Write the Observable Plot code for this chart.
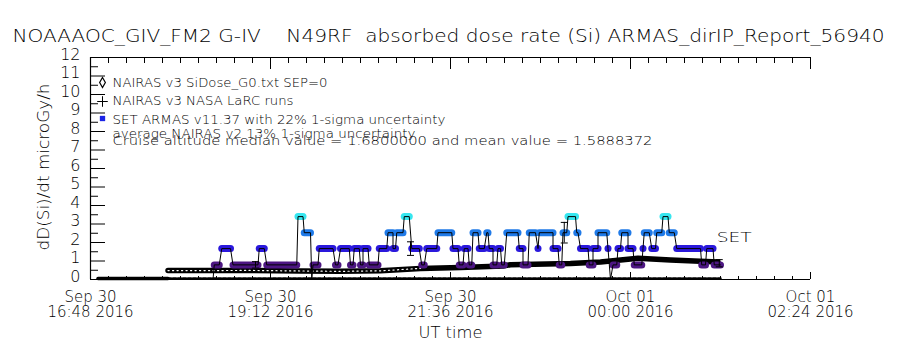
<!DOCTYPE html>
<html><head><meta charset="utf-8">
<script src="https://cdn.jsdelivr.net/npm/d3@7"></script>
<script src="https://cdn.jsdelivr.net/npm/@observablehq/plot@0.6"></script>
<style>body{margin:0;background:#fff} svg{display:block} svg text{white-space:pre}</style>
</head><body><div id="chart"></div>
<script>
// ---------- data (times = elapsed minutes after 2016-09-30 16:48 UT) ----------
const titleText = "NOAAAOC_GIV_FM2 G-IV    N49RF  absorbed dose rate (Si) ARMAS_dirIP_Report_56940";
const yTitle = "dD(Si)/dt microGy/h";
const xTitle = "UT time";
const yTickValues = [0,1,2,3,4,5,6,7,8,9,10,11,12];
const xTickTimes = ["2016-09-30T16:48Z","2016-09-30T19:12Z","2016-09-30T21:36Z","2016-10-01T00:00Z","2016-10-01T02:24Z"];
const xTickLabels = ["Sep 30\n16:48 2016","Sep 30\n19:12 2016","Sep 30\n21:36 2016","Oct 01\n00:00 2016","Oct 01\n02:24 2016"];
const legendLabels = ["NAIRAS v3 SiDose_G0.txt SEP=0","NAIRAS v3 NASA LaRC runs","SET ARMAS v11.37 with 22% 1-sigma uncertainty"];
const noteLines = ["average NAIRAS v2 13% 1-sigma uncertainty","Cruise altitude median value = 1.6800000 and mean value = 1.5888372"];
const seriesTag = "SET";

// NAIRAS v3 SiDose_G0 model
const nairasMin = [62, 88, 128, 168, 200, 232, 264, 296, 330, 336, 384, 408, 438, 464, 502];
const nairasDose = [0.48, 0.48, 0.49, 0.46, 0.44, 0.47, 0.60, 0.65, 0.73, 0.80, 0.86, 0.95, 1.15, 1.05, 0.95];

// NAIRAS v3 NASA LaRC runs (ground + flight, near zero)
const larcGroundMin = [6, 62];
const larcGroundDose = [0.06, 0.06];
const larcFlightMin = [62, 504];
const larcFlightDose = [0.05, 0.05];

// ARMAS v11.37 quantized dose-rate runs: start, end (minutes), dose
const armasStart = [98,99,105,114,135,141,166,171,177,178,183,196,200,208,211,216,218,223,231,238,242,245,251,257,265,269,278,290,295,299,303,306,311,317,319,322,326,329,333,343,346,351,358,359,370,375,378,382,389,392,399,402,406,414,416,418,422,425,430,435,442,443,449,453,458,463,469,489,493,499];
const armasEnd   = [98,103,112,134,139,165,170,176,177,182,194,198,207,210,215,218,222,230,237,242,244,250,255,263,267,277,289,294,298,302,305,310,315,318,322,325,328,331,342,346,350,356,358,370,374,377,381,388,390,398,402,406,413,414,416,421,424,430,434,441,442,447,452,457,462,467,488,492,498,504];
const armasDose  = [0,0.79,1.67,0.79,1.67,0.79,3.40,2.53,0,0.79,1.67,0.79,1.67,0.79,1.67,0.79,1.67,0.79,1.67,2.53,1.67,2.53,3.40,1.67,0.79,1.67,2.53,1.67,0.79,1.67,0.79,2.53,1.67,2.53,1.67,0.79,1.67,0.79,2.53,1.67,0.79,2.53,1.67,2.53,1.67,0.79,2.53,3.40,2.53,1.67,0.79,1.67,2.53,1.67,0,0.79,1.67,2.53,1.67,0.79,1.67,2.53,1.67,2.53,3.40,2.53,1.67,0.79,1.67,0.79];

// ARMAS 22% 1-sigma error bars
const errMin = [132, 256, 379, 503];
const errDose = [0.79, 1.67, 2.53, 0.88];
const errFrac = 0.22;

const levelValues = [0.79, 1.67, 2.53, 3.40];
const levelColors = ["#4c1682", "#2a18dc", "#1f7ae8", "#36e6ef"];

// ---------- build ----------
const t0 = Date.UTC(2016, 8, 30, 16, 48);
const D = m => new Date(t0 + m * 60000);
const xDomain = [new Date(xTickTimes[0]), new Date(xTickTimes[4])];

const nairas = nairasMin.map((m, i) => ({t: D(m), v: nairasDose[i], m}));
const nairasEarly = nairas.filter(d => d.m <= 264);
const larcG = larcGroundMin.map((m, i) => ({t: D(m), v: larcGroundDose[i]}));
const larcF = larcFlightMin.map((m, i) => ({t: D(m), v: larcFlightDose[i]}));
const runs = armasStart.map((s, i) => ({t1: D(s), t2: D(armasEnd[i]), v: armasDose[i]}));
const armasPts = runs.flatMap(r => [{t: r.t1, v: r.v}, {t: r.t2, v: r.v}]);
const coloredRuns = runs.filter(r => r.v > 0);
const errs = errMin.map((m, i) => ({t: D(m), lo: errDose[i] * (1 - errFrac), hi: errDose[i] * (1 + errFrac)}));
const colorOf = v => levelColors[levelValues.indexOf(v)];

// axis tick positions (10 minor intervals per labelled interval)
const span = xDomain[1] - xDomain[0];
const xMinor = d3.range(0, 41).map(i => new Date(+xDomain[0] + span * i / 40));
const xMajor = xTickTimes.map(s => new Date(s));
const yMinor = d3.range(0, 12.01, 0.5);
const msPerPx = span / 720;
const pxUnit = 12 / 222;
const capL = d => new Date(+d.t - 3.5 * msPerPx);
const capR = d => new Date(+d.t + 3.5 * msPerPx);

const FONT = "DejaVu Sans";
const txt = {fontFamily: FONT, fontWeight: 200, fill: "black", stroke: "none"};
const TL = (s, dx, dy, size) => Plot.text([s], {frameAnchor: "top-left", dx, dy, textAnchor: "start", lineAnchor: "middle", fontSize: size, ...txt});

const chart = Plot.plot({
  width: 900, height: 350,
  marginLeft: 90, marginRight: 90, marginTop: 57, marginBottom: 71,
  x: {type: "utc", domain: xDomain, axis: null},
  y: {domain: [0, 12], axis: null},
  style: {fontFamily: FONT, background: "white"},
  marks: [
    // frame
    Plot.ruleX([xDomain[0]], {stroke: "black", strokeWidth: 1.2}),
    Plot.ruleY([0], {stroke: "black", strokeWidth: 1.2}),
    Plot.ruleY([12], {stroke: "black", strokeWidth: 1.2}),
    // y ticks (inward)
    Plot.ruleY(yMinor, {x1: xDomain[0], x2: d => new Date(+xDomain[0] + (Number.isInteger(d) ? 15 : 8) * msPerPx), stroke: "black"}),
    // x ticks top (down) & bottom (up)
    Plot.ruleX(xMinor, {y1: 12, y2: 12 - 6 * pxUnit, stroke: "black"}),
    Plot.ruleX(xMajor, {y1: 12, y2: 12 - 12 * pxUnit, stroke: "black"}),
    Plot.ruleX(xMinor, {y1: 0, y2: 3 * pxUnit, stroke: "black"}),
    Plot.ruleX(xMajor, {y1: 0, y2: 7 * pxUnit, stroke: "black"}),
    // LaRC near zero
    Plot.line(larcG, {x: "t", y: "v", stroke: "black", strokeWidth: 3.5}),
    Plot.line(larcF, {x: "t", y: "v", stroke: "black", strokeWidth: 2.5, strokeDasharray: "3 2"}),
    // NAIRAS model chain of diamonds
    Plot.line(nairas, {x: "t", y: "v", stroke: "black", strokeWidth: 5.5}),
    Plot.line(nairasEarly, {x: "t", y: "v", stroke: "white", strokeWidth: 1.2, strokeDasharray: "1.2 3.3"}),
    // ARMAS colored runs
    Plot.link(coloredRuns, {x1: "t1", x2: "t2", y1: "v", y2: "v", stroke: d => colorOf(d.v), strokeWidth: 7, strokeLinecap: "round"}),
    // ARMAS connecting line
    Plot.line(armasPts, {x: "t", y: "v", stroke: "black", strokeWidth: 1}),
    // error bars
    Plot.ruleX(errs, {x: "t", y1: "lo", y2: "hi", stroke: "black", strokeWidth: 1}),
    Plot.link(errs, {x1: capL, x2: capR, y1: "lo", y2: "lo", stroke: "black"}),
    Plot.link(errs, {x1: capL, x2: capR, y1: "hi", y2: "hi", stroke: "black"}),
    // y tick labels
    Plot.text(yTickValues, {y: d => d, text: d => String(d), frameAnchor: "left", dx: -10, dy: -3, textAnchor: "end", lineAnchor: "middle", fontSize: 16, ...txt}),
    // x tick labels
    Plot.text(xMajor, {x: d => d, text: (d, i) => xTickLabels[i], frameAnchor: "bottom", dy: 25, lineAnchor: "middle", lineHeight: 1.0, fontSize: 15, ...txt}),
    // axis titles
    Plot.text([xTitle], {frameAnchor: "bottom", dy: 54, textAnchor: "middle", lineAnchor: "middle", fontSize: 15, ...txt}),
    Plot.text([yTitle], {frameAnchor: "left", dx: -46, dy: 82, rotate: -90, textAnchor: "start", lineAnchor: "middle", fontSize: 15, ...txt}),
    // title
    TL(titleText, -78, -21, 17),
    // legend
    Plot.dot([0], {frameAnchor: "top-left", dx: 12, dy: 25, symbol: "diamond", r: 3, stroke: "black", fill: "white", strokeWidth: 1.2}),
    Plot.dot([0], {frameAnchor: "top-left", dx: 12, dy: 44, symbol: "plus", r: 3.5, stroke: "black", strokeWidth: 1}),
    Plot.dot([0], {frameAnchor: "top-left", dx: 12, dy: 61, symbol: "square", r: 3, fill: "#1a24e6", stroke: "none"}),
    TL(legendLabels[0], 22, 25, 13),
    TL(legendLabels[1], 22, 43, 13),
    TL(legendLabels[2], 22, 62, 13),
    TL(noteLines[0], 22, 76, 13),
    TL(noteLines[1], 22, 83, 13),
    Plot.text([seriesTag], {x: [D(501)], y: [1.67], dy: -11, textAnchor: "start", lineAnchor: "middle", fontSize: 14, ...txt})
  ]
});
document.getElementById("chart").appendChild(chart);

// fit single-line texts to the widths they have in the reference
const widths = new Map([
  [titleText, 872], [legendLabels[0], 215], [legendLabels[1], 181], [legendLabels[2], 333],
  [noteLines[0], 303], [noteLines[1], 540], [yTitle, 167], [xTitle, 64], [seriesTag, 35]
]);
d3.select(chart).selectAll("text").each(function () {
  if (this.querySelector("tspan")) return;
  const w = widths.get(this.textContent);
  if (w) { this.setAttribute("textLength", w); this.setAttribute("lengthAdjust", "spacingAndGlyphs"); }
});
</script>
</body></html>
